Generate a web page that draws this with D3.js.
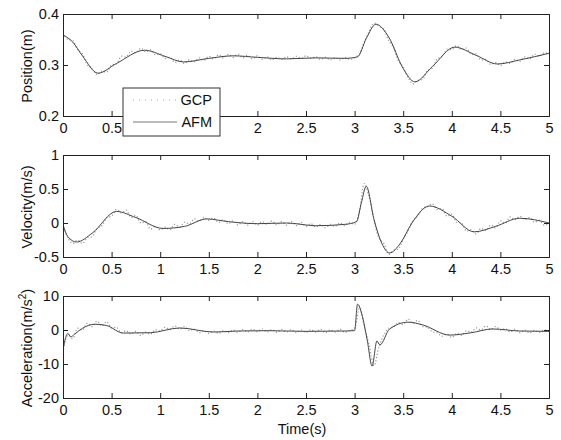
<!DOCTYPE html>
<html>
<head>
<meta charset="utf-8">
<script src="https://cdn.jsdelivr.net/npm/d3@7"></script>
<style>
  body { margin: 0; background: #fff; }
  svg { font-family: Arial, "Liberation Sans", Helvetica, sans-serif; }
</style>
</head>
<body>
<svg id="chart" width="561" height="440"></svg>
<script>
// time grid of the GCP samples (s)
const gcpTime = d3.range(0, 101).map((i) => i * 0.05);

// ---- position (m)
const afmPosT = [0, 0.1, 0.2, 0.36, 0.55, 0.84, 1.05, 1.24, 1.5, 1.75, 2.0, 2.3, 2.6, 2.9, 3.03, 3.12, 3.22, 3.35, 3.5, 3.62, 3.8, 4.03, 4.25, 4.47, 4.7, 5.0];
const afmPos = [0.359, 0.345, 0.318, 0.284, 0.303, 0.329, 0.317, 0.306, 0.313, 0.318, 0.315, 0.312, 0.314, 0.313, 0.316, 0.352, 0.38, 0.355, 0.293, 0.267, 0.297, 0.335, 0.319, 0.302, 0.31, 0.323];
const gcpPos = [
  0.362, 0.350, 0.348, 0.330, 0.322, 0.300, 0.293, 0.281, 0.288, 0.286,
  0.300, 0.302, 0.317, 0.316, 0.327, 0.324, 0.333, 0.326, 0.330, 0.320,
  0.322, 0.313, 0.315, 0.305, 0.310, 0.303, 0.310, 0.306, 0.314, 0.309,
  0.317, 0.312, 0.320, 0.314, 0.321, 0.315, 0.321, 0.314, 0.319, 0.312,
  0.318, 0.311, 0.316, 0.310, 0.315, 0.311, 0.316, 0.312, 0.317, 0.313,
  0.318, 0.313, 0.316, 0.311, 0.315, 0.310, 0.314, 0.310, 0.315, 0.311,
  0.314, 0.322, 0.345, 0.366, 0.382, 0.376, 0.370, 0.348, 0.335, 0.308,
  0.296, 0.275, 0.263, 0.270, 0.272, 0.289, 0.294, 0.312, 0.316, 0.331,
  0.330, 0.338, 0.330, 0.333, 0.321, 0.322, 0.310, 0.311, 0.301, 0.305,
  0.299, 0.306, 0.303, 0.311, 0.307, 0.316, 0.312, 0.321, 0.317, 0.324,
  0.321
];

// ---- velocity (m/s)
const afmVelT = [0, 0.05, 0.14, 0.3, 0.55, 0.75, 1.03, 1.25, 1.48, 1.7, 2.0, 2.3, 2.6, 2.9, 3.02, 3.07, 3.12, 3.2, 3.28, 3.36, 3.47, 3.59, 3.77, 4.0, 4.23, 4.45, 4.7, 5.0];
const afmVel = [-0.03, -0.2, -0.28, -0.15, 0.17, 0.08, -0.08, -0.05, 0.06, 0.02, -0.01, 0.0, -0.04, -0.02, 0.02, 0.3, 0.54, 0.05, -0.3, -0.44, -0.3, 0.0, 0.25, 0.1, -0.13, -0.05, 0.07, 0.0];
const gcpVel = [
  -0.02, -0.22, -0.30, -0.25, -0.30, -0.22, -0.20, -0.08, -0.04, 0.08,
  0.10, 0.20, 0.15, 0.19, 0.08, 0.11, 0.00, 0.02, -0.09, -0.05,
  -0.10, -0.06, -0.10, -0.02, -0.06, 0.01, -0.01, 0.06, 0.03, 0.08,
  0.04, 0.07, 0.01, 0.05, -0.01, 0.03, -0.03, 0.02, -0.03, 0.02,
  -0.03, 0.02, -0.02, 0.03, -0.03, 0.02, -0.03, 0.02, -0.04, 0.01,
  -0.05, -0.01, -0.06, -0.02, -0.07, -0.02, -0.05, 0.00, -0.04, 0.01,
  -0.02, 0.18, 0.58, 0.38, 0.05, -0.22, -0.30, -0.46, -0.40, -0.38,
  -0.24, -0.12, 0.04, 0.10, 0.22, 0.24, 0.28, 0.20, 0.21, 0.10,
  0.13, 0.01, 0.00, -0.12, -0.10, -0.16, -0.08, -0.11, -0.03, -0.07,
  0.03, 0.00, 0.09, 0.05, 0.10, 0.05, 0.08, 0.01, 0.04, -0.03,
  0.00
];

// ---- acceleration (m/s^2)
const afmAccT = [0, 0.02, 0.05, 0.08, 0.12, 0.2, 0.33, 0.45, 0.62, 0.9, 1.2, 1.55, 1.8, 2.1, 2.5, 2.9, 3.0, 3.03, 3.08, 3.13, 3.18, 3.23, 3.26, 3.36, 3.55, 3.7, 3.98, 4.2, 4.42, 4.7, 5.0];
const afmAcc = [-5.9, -3, -1, -2, -1.2, 0.5, 1.7, 1.3, -0.9, -0.8, 0.6, -0.6, -0.3, -0.2, -0.4, -0.3, -0.2, 7.6, 4, -3, -10.6, -3.2, -4.4, 0.3, 2.3, 1.5, -1.5, -0.8, 0.3, -0.3, -0.4];
const gcpAcc = [
  -6.5, -1.5, -2.5, 0.5, 0.0, 2.0, 1.0, 2.6, 1.2, 2.4,
  0.6, 0.8, -0.8, -0.2, -1.2, -0.4, -1.6, -0.6, -1.2, 0.0,
  -0.3, 0.8, 0.2, 1.2, 0.3, 1.0, -0.2, 0.3, -0.8, -0.2,
  -1.0, -0.3, -1.0, -0.2, -0.8, 0.0, -0.7, 0.1, -0.6, 0.2,
  -0.5, 0.3, -0.6, 0.1, -0.7, 0.2, -0.6, 0.1, -0.8, 0.0,
  -0.7, 0.1, -0.6, 0.2, -0.8, 0.0, -0.6, 0.2, -0.7, -0.1,
  0.5, 7.0, 1.0, -4.5, -10.5, -5.0, -1.5, 0.5, 0.8, 2.2,
  1.6, 3.2, 2.0, 2.8, 1.0, 0.8, -0.5, -0.8, -1.8, -1.2,
  -2.2, -1.0, -1.6, -0.2, -0.6, 0.6, 0.0, 1.2, 0.2, 1.0,
  0.0, 0.4, -0.6, 0.2, -0.8, 0.0, -0.9, -0.2, -0.7, 0.0,
  -0.4
];

const xTicks = [0, 0.5, 1, 1.5, 2, 2.5, 3, 3.5, 4, 4.5, 5];
const legendLabels = ["GCP", "AFM"];

const panels = [
  { label: ["Position(m)"], domain: [0.2, 0.4], ticks: [0.2, 0.3, 0.4], fmt: d3.format(".1f"),
    afmT: afmPosT, afm: afmPos, gcp: gcpPos, top: 14, hidden: [1, 1.5] },
  { label: ["Velocity(m/s)"], domain: [-0.5, 1], ticks: [-0.5, 0, 0.5, 1], fmt: (d) => String(d),
    afmT: afmVelT, afm: afmVel, gcp: gcpVel, top: 155, hidden: [] },
  { label: ["Acceleration(m/s", "2", ")"], domain: [-20, 10], ticks: [-20, -10, 0, 10], fmt: (d) => String(d),
    afmT: afmAccT, afm: afmAcc, gcp: gcpAcc, top: 296, hidden: [] },
];

const left = 63, right = 549, plotH = 102;
const fs = 14.5;
const svg = d3.select("#chart");
const x = d3.scaleLinear().domain([0, 5]).range([left, right]);

panels.forEach((p, i) => {
  const y = d3.scaleLinear().domain(p.domain).range([p.top + plotH, p.top]);
  const g = svg.append("g");
  const clipId = "clip" + i;
  g.append("clipPath").attr("id", clipId)
    .append("rect").attr("x", left).attr("y", p.top).attr("width", right - left).attr("height", plotH);

  const plot = g.append("g").attr("clip-path", `url(#${clipId})`);

  // GCP: light dotted trace
  const gcpLine = d3.line().x((d, k) => x(gcpTime[k])).y((d) => y(d)).curve(d3.curveCatmullRom);
  plot.append("path")
    .attr("d", gcpLine(p.gcp))
    .attr("fill", "none")
    .attr("stroke", "#9a9a9a")
    .attr("stroke-width", 1.2)
    .attr("stroke-dasharray", "1.2,2");

  // AFM: solid trace
  const afmLine = d3.line().x((d, k) => x(p.afmT[k])).y((d) => y(d)).curve(d3.curveMonotoneX);
  plot.append("path")
    .attr("d", afmLine(p.afm))
    .attr("fill", "none")
    .attr("stroke", "#444")
    .attr("stroke-width", 1);

  // axes, MATLAB box style with inward ticks
  const tl = 5;
  g.append("g").attr("transform", `translate(0,${p.top + plotH})`)
    .call(d3.axisBottom(x).tickValues(xTicks).tickSize(-tl).tickPadding(7)
      .tickFormat((d) => (p.hidden.includes(d) ? "" : String(d))));
  g.append("g").attr("transform", `translate(0,${p.top})`)
    .call(d3.axisTop(x).tickValues(xTicks).tickSize(-tl).tickFormat(""));
  g.append("g").attr("transform", `translate(${left},0)`)
    .call(d3.axisLeft(y).tickValues(p.ticks).tickSize(-tl).tickPadding(4).tickFormat(p.fmt));
  g.append("g").attr("transform", `translate(${right},0)`)
    .call(d3.axisRight(y).tickValues(p.ticks).tickSize(-tl).tickFormat(""));

  g.selectAll(".domain").attr("stroke", "#222").attr("stroke-width", 1);
  g.selectAll(".tick line").attr("stroke", "#222");
  g.selectAll(".tick text").attr("font-size", fs).attr("fill", "#111");

  const t = g.append("text")
    .attr("transform", `translate(32,${p.top + plotH / 2 + 1}) rotate(-90)`)
    .attr("text-anchor", "middle")
    .attr("font-size", fs)
    .attr("fill", "#111");
  t.append("tspan").text(p.label[0]);
  if (p.label.length > 1) {
    t.append("tspan").attr("font-size", 10).attr("dy", -6).text(p.label[1]);
    t.append("tspan").attr("dy", 6).text(p.label[2]);
  }
});

svg.append("text")
  .attr("x", 302).attr("y", 434)
  .attr("text-anchor", "middle")
  .attr("font-size", fs)
  .attr("fill", "#111")
  .text("Time(s)");

// legend over the first panel
const lg = svg.append("g").attr("transform", "translate(123,88)");
lg.append("rect").attr("width", 97).attr("height", 48)
  .attr("fill", "#fff").attr("stroke", "#333").attr("stroke-width", 1);
legendLabels.forEach((name, i) => {
  const cy = 12 + i * 22;
  lg.append("line")
    .attr("x1", 10).attr("x2", 54).attr("y1", cy).attr("y2", cy)
    .attr("stroke", i === 0 ? "#aaa" : "#777")
    .attr("stroke-width", 1)
    .attr("stroke-dasharray", i === 0 ? "1,5" : null);
  lg.append("text")
    .attr("x", 89).attr("y", cy + 5)
    .attr("text-anchor", "end")
    .attr("font-size", fs)
    .attr("fill", "#111")
    .text(name);
});
</script>
</body>
</html>
